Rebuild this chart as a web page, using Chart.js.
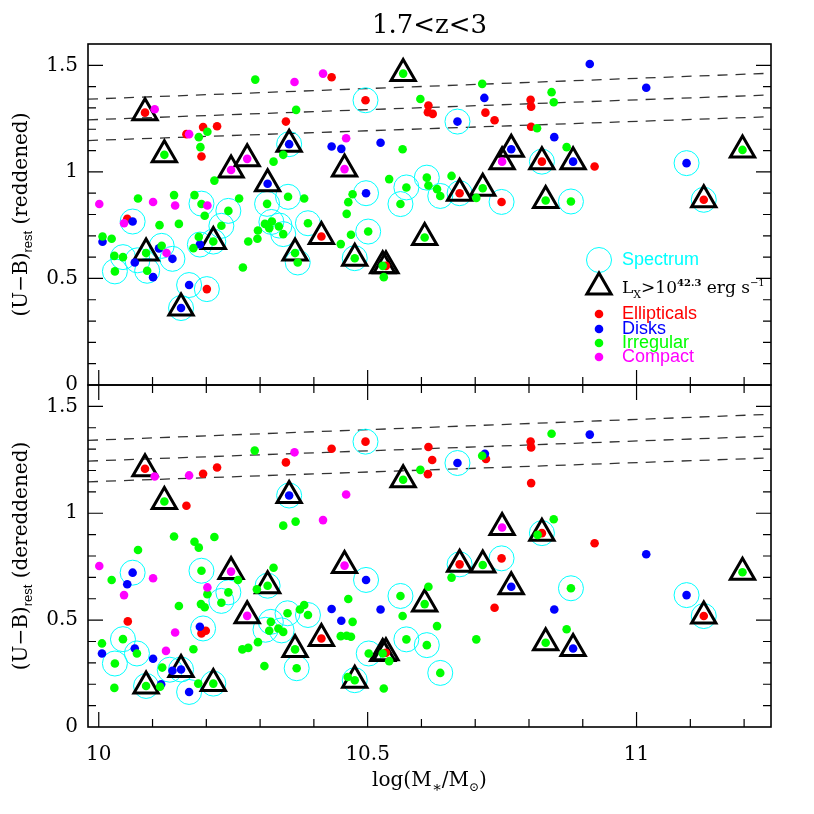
<!DOCTYPE html>
<html>
<head>
<meta charset="utf-8">
<script src="https://cdn.jsdelivr.net/npm/chart.js@4.4.0/dist/chart.umd.min.js"></script>
<style>
  html, body { margin: 0; padding: 0; background: #fff; }
  #wrap { position: relative; width: 814px; height: 814px; }
  #wrap canvas { position: absolute; left: 0; top: 0; }
</style>
</head>
<body>
<div id="wrap">
  <canvas id="top-chart" width="814" height="814"></canvas>
  <canvas id="bottom-chart" width="814" height="814"></canvas>
</div>
<script>
// axis ranges and ticks
const xRange = [9.98, 11.25];
const yRange = [0, 1.6];
const xTickLabels = [10, 10.5, 11];
const xTickMarks = [10.0, 10.1, 10.2, 10.3, 10.4, 10.5, 10.6, 10.7, 10.8, 10.9, 11.0, 11.1, 11.2];
const yTickLabels = [0, 0.5, 1, 1.5];
const yTickMarks = [0.1, 0.2, 0.3, 0.4, 0.5, 0.6, 0.7, 0.8, 0.9, 1.0, 1.1, 1.2, 1.3, 1.4, 1.5];

// dashed colour cuts (same in both panels)
const cutX = [9.98, 11.25];
const cutY = [[1.341, 1.463], [1.244, 1.361], [1.147, 1.259]];

// ---- top panel: reddened (U-B) ----
const topEll = [[10.086,1.278],[10.163,1.177],[10.194,1.210],[10.220,1.214],[10.191,1.072],[10.053,0.780],[10.201,0.450],[10.433,1.444],[10.496,1.336],[10.613,1.311],[10.612,1.280],[10.621,1.272],[10.348,1.236],[10.414,0.697],[10.534,0.559],[10.803,1.338],[10.804,1.306],[10.719,1.278],[10.736,1.242],[10.804,1.212],[10.824,1.048],[10.922,1.025],[10.671,0.900],[10.749,0.859],[11.125,0.869]];
const topDisk = [[10.063,0.767],[10.007,0.672],[10.188,0.659],[10.067,0.575],[10.101,0.506],[10.112,0.641],[10.137,0.592],[10.168,0.469],[10.153,0.361],[10.354,1.130],[10.433,1.119],[10.451,1.108],[10.524,1.137],[10.314,0.944],[10.497,0.900],[10.913,1.506],[10.717,1.347],[10.667,1.236],[10.847,1.163],[10.767,1.106],[10.882,1.048],[11.018,1.395],[11.093,1.041]];
const topIrr = [[10.291,1.433],[10.202,1.188],[10.186,1.163],[10.189,1.116],[10.122,1.080],[10.215,0.959],[10.073,0.875],[10.140,0.891],[10.178,0.891],[10.191,0.849],[10.197,0.794],[10.241,0.817],[10.261,0.875],[10.113,0.750],[10.149,0.756],[10.228,0.747],[10.007,0.697],[10.024,0.686],[10.213,0.673],[10.186,0.695],[10.176,0.642],[10.296,0.725],[10.278,0.673],[10.295,0.686],[10.088,0.619],[10.029,0.606],[10.045,0.600],[10.030,0.533],[10.090,0.536],[10.117,0.653],[10.268,0.551],
  [10.566,1.461],[10.598,1.342],[10.367,1.291],[10.343,1.080],[10.325,1.048],[10.565,1.106],[10.540,0.966],[10.610,0.973],[10.613,0.936],[10.572,0.927],[10.561,0.849],[10.472,0.895],[10.464,0.858],[10.461,0.803],[10.313,0.850],[10.352,0.883],[10.382,0.875],[10.309,0.756],[10.322,0.767],[10.317,0.736],[10.335,0.744],[10.343,0.708],[10.389,0.759],[10.469,0.705],[10.450,0.661],[10.501,0.720],[10.606,0.692],[10.365,0.619],[10.370,0.575],[10.476,0.595],[10.528,0.559],[10.530,0.506],
  [10.713,1.413],[10.842,1.374],[10.846,1.327],[10.815,1.205],[10.870,1.116],[10.656,0.981],[10.629,0.919],[10.635,0.887],[10.702,0.878],[10.714,0.923],[10.831,0.866],[10.878,0.861],[11.197,1.103]];
const topComp = [[10.104,1.294],[10.168,1.177],[10.246,1.009],[10.276,1.061],[10.001,0.849],[10.101,0.859],[10.142,0.842],[10.202,0.842],[10.047,0.759],[10.126,0.619],[10.417,1.461],[10.364,1.422],[10.460,1.158],[10.457,1.013],[10.750,1.048]];
const topSpec = [[10.191,0.851],[10.241,0.817],[10.063,0.767],[10.228,0.747],[10.213,0.673],[10.188,0.659],[10.045,0.600],[10.030,0.533],[10.072,0.585],[10.090,0.536],[10.117,0.653],[10.137,0.592],[10.168,0.469],[10.201,0.450],[10.153,0.361],[10.354,1.130],[10.496,1.336],[10.610,0.973],[10.572,0.927],[10.561,0.849],[10.497,0.900],[10.313,0.850],[10.352,0.883],[10.321,0.765],[10.336,0.748],[10.343,0.708],[10.389,0.759],[10.501,0.720],[10.370,0.575],[10.476,0.595],[10.667,1.236],[10.824,1.048],[10.635,0.887],[10.671,0.900],[10.749,0.859],[10.878,0.861],[11.093,1.041],[11.125,0.869]];
const topXray = [[10.086,1.278],[10.122,1.080],[10.246,1.009],[10.276,1.061],[10.213,0.673],[10.088,0.619],[10.153,0.361],[10.566,1.461],[10.354,1.130],[10.457,1.013],[10.314,0.944],[10.414,0.697],[10.606,0.692],[10.365,0.619],[10.476,0.595],[10.528,0.559],[10.534,0.559],[10.767,1.106],[10.750,1.048],[10.824,1.048],[10.882,1.048],[10.671,0.900],[10.714,0.923],[10.831,0.866],[11.197,1.103],[11.125,0.869]];

// ---- bottom panel: dereddened (U-B) ----
const botEll = [[10.086,1.208],[10.194,1.185],[10.220,1.214],[10.163,1.035],[10.054,0.494],[10.191,0.438],[10.199,0.450],[10.433,1.302],[10.348,1.238],[10.496,1.335],[10.613,1.310],[10.620,1.249],[10.612,1.183],[10.414,0.414],[10.534,0.347],[10.803,1.336],[10.804,1.308],[10.720,1.254],[10.804,1.141],[10.824,0.907],[10.922,0.860],[10.671,0.761],[10.749,0.789],[10.736,0.558],[11.125,0.519]];
const botDisk = [[10.063,0.722],[10.053,0.668],[10.188,0.469],[10.006,0.344],[10.067,0.367],[10.101,0.319],[10.137,0.263],[10.153,0.269],[10.116,0.200],[10.168,0.164],[10.354,1.083],[10.497,0.688],[10.433,0.552],[10.451,0.497],[10.524,0.550],[10.913,1.368],[10.718,1.278],[10.667,1.235],[10.767,0.656],[10.847,0.550],[10.882,0.367],[11.018,0.808],[11.093,0.617]];
const botIrr = [[10.290,1.293],[10.122,1.055],[10.140,0.891],[10.178,0.867],[10.186,0.839],[10.215,0.889],[10.073,0.828],[10.024,0.688],[10.191,0.731],[10.259,0.688],[10.241,0.630],[10.228,0.581],[10.202,0.621],[10.149,0.566],[10.190,0.575],[10.197,0.560],[10.045,0.411],[10.006,0.391],[10.071,0.344],[10.176,0.364],[10.030,0.297],[10.118,0.278],[10.029,0.183],[10.088,0.192],[10.114,0.188],[10.185,0.203],[10.213,0.203],[10.267,0.363],[10.278,0.370],[10.296,0.397],[10.308,0.285],[10.294,0.644],
  [10.598,1.203],[10.566,1.157],[10.343,0.942],[10.366,0.961],[10.325,0.745],[10.314,0.661],[10.464,0.599],[10.561,0.613],[10.606,0.575],[10.613,0.656],[10.565,0.519],[10.472,0.492],[10.450,0.425],[10.461,0.427],[10.469,0.422],[10.351,0.532],[10.382,0.571],[10.374,0.550],[10.389,0.524],[10.320,0.492],[10.317,0.450],[10.334,0.461],[10.343,0.445],[10.365,0.363],[10.368,0.275],[10.502,0.344],[10.528,0.344],[10.540,0.308],[10.572,0.410],[10.610,0.383],[10.476,0.219],[10.463,0.234],[10.530,0.180],
  [10.842,1.372],[10.713,1.269],[10.816,0.899],[10.846,0.972],[10.714,0.758],[10.656,0.699],[10.878,0.649],[10.629,0.472],[10.702,0.410],[10.870,0.457],[10.831,0.394],[10.635,0.253],[11.197,0.724]];
const botComp = [[10.104,1.172],[10.168,1.177],[10.001,0.753],[10.047,0.617],[10.101,0.696],[10.246,0.727],[10.202,0.653],[10.276,0.520],[10.142,0.442],[10.125,0.356],[10.364,1.285],[10.460,1.088],[10.417,0.968],[10.457,0.755],[10.750,0.933]];
const botSpec = [[10.063,0.722],[10.191,0.731],[10.241,0.630],[10.228,0.590],[10.194,0.461],[10.045,0.411],[10.071,0.344],[10.030,0.297],[10.153,0.269],[10.132,0.268],[10.088,0.192],[10.168,0.164],[10.213,0.203],[10.354,1.083],[10.496,1.335],[10.314,0.661],[10.497,0.688],[10.561,0.613],[10.351,0.532],[10.389,0.524],[10.320,0.492],[10.310,0.455],[10.340,0.452],[10.368,0.275],[10.502,0.344],[10.572,0.410],[10.610,0.383],[10.476,0.219],[10.635,0.253],[10.667,1.235],[10.824,0.907],[10.671,0.761],[10.749,0.789],[10.878,0.649],[11.093,0.617],[11.125,0.519]];
const botXray = [[10.086,1.208],[10.122,1.055],[10.246,0.727],[10.276,0.520],[10.153,0.269],[10.088,0.192],[10.213,0.203],[10.354,1.083],[10.566,1.157],[10.457,0.755],[10.314,0.661],[10.606,0.575],[10.414,0.414],[10.365,0.363],[10.528,0.344],[10.534,0.347],[10.476,0.219],[10.750,0.933],[10.824,0.907],[10.671,0.761],[10.714,0.758],[10.767,0.656],[10.831,0.394],[10.882,0.367],[11.197,0.724],[11.125,0.519]];

const SERIF = '"DejaVu Serif", serif';
const SANS = '"Liberation Sans", Arial, sans-serif';
const COL = { ell: '#ff0000', disk: '#0000ff', irr: '#00ff00', comp: '#ff00ff', spec: '#00ffff' };

const pts = arr => arr.map(p => ({ x: p[0], y: p[1] }));
const isMajor = v => Math.abs(v * 2 - Math.round(v * 2)) < 1e-6;

// draw a row of text runs (sub/superscripts) centred on cx, baseline cy
function drawRuns(ctx, runs, cx, cy, align) {
  let w = 0;
  runs.forEach(r => { ctx.font = r.font; r.w = ctx.measureText(r.text).width; w += r.w; });
  let xx = align === 'left' ? cx : cx - w / 2;
  ctx.textAlign = 'left';
  ctx.textBaseline = 'alphabetic';
  runs.forEach(r => {
    ctx.font = r.font;
    ctx.fillStyle = r.color || '#000';
    ctx.fillText(r.text, xx, cy + (r.dy || 0));
    xx += r.w;
  });
}

// frame, inward ticks, titles, legend
const decor = {
  id: 'decor',
  afterDatasetsDraw(chart, args, opts) {
    const { ctx, chartArea: a, scales: { x, y } } = chart;
    ctx.save();
    ctx.strokeStyle = '#000';
    ctx.lineWidth = 1.2;
    ctx.beginPath();
    xTickMarks.forEach(v => {
      const px = x.getPixelForValue(v);
      const len = isMajor(v) ? 15 : 8;
      if (opts.sides.includes('bottom')) { ctx.moveTo(px, a.bottom); ctx.lineTo(px, a.bottom - len); }
      if (opts.sides.includes('top')) { ctx.moveTo(px, a.top); ctx.lineTo(px, a.top + len); }
    });
    yTickMarks.forEach(v => {
      const py = y.getPixelForValue(v);
      const len = isMajor(v) ? 15 : 8;
      ctx.moveTo(a.left, py); ctx.lineTo(a.left + len, py);
      ctx.moveTo(a.right, py); ctx.lineTo(a.right - len, py);
    });
    ctx.stroke();
    ctx.lineWidth = 1.6;
    ctx.strokeRect(a.left, a.top, a.right - a.left, a.bottom - a.top);

    // y axis title
    ctx.translate(20, (a.top + a.bottom) / 2);
    ctx.rotate(-Math.PI / 2);
    drawRuns(ctx, [
      { text: '(U\u2212B)', font: '20px ' + SERIF },
      { text: 'rest', font: '13px ' + SANS, dy: 5 },
      { text: ' (' + opts.ylabel + ')', font: '20px ' + SERIF }
    ], 0, 7);
    ctx.setTransform(1, 0, 0, 1, 0, 0);

    const cx = (a.left + a.right) / 2;
    if (opts.title) {
      drawRuns(ctx, [{ text: opts.title, font: '26px ' + SERIF }], cx, 33);
    }
    if (opts.xlabel) {
      drawRuns(ctx, [
        { text: 'log(M', font: '20px ' + SERIF },
        { text: '\u2217', font: '15px ' + SERIF, dy: 6 },
        { text: '/M', font: '20px ' + SERIF },
        { text: '\u2299', font: '12px ' + SERIF, dy: 5 },
        { text: ')', font: '20px ' + SERIF }
      ], cx, 786);
    }
    if (opts.legend) drawLegend(ctx, a);
    ctx.restore();
  }
};

function drawLegend(ctx, a) {
  const lx = a.left + 511, tx = a.left + 534;
  ctx.lineWidth = 1;
  ctx.strokeStyle = COL.spec;
  ctx.beginPath(); ctx.arc(lx, 260, 12.5, 0, Math.PI * 2); ctx.stroke();
  ctx.font = '18px ' + SANS; ctx.fillStyle = COL.spec; ctx.textBaseline = 'middle'; ctx.textAlign = 'left';
  ctx.fillText('Spectrum', tx, 260);

  const ty = 287, r = 14;
  ctx.lineWidth = 3; ctx.strokeStyle = '#000';
  ctx.beginPath();
  for (let i = 0; i < 3; i++) {
    const ang = i * 2 * Math.PI / 3;
    const px = lx + Math.sin(ang) * r, py = ty - Math.cos(ang) * r;
    i ? ctx.lineTo(px, py) : ctx.moveTo(px, py);
  }
  ctx.closePath(); ctx.stroke();
  drawRuns(ctx, [
    { text: 'L', font: '17px ' + SERIF },
    { text: 'X', font: '11px ' + SERIF, dy: 5 },
    { text: '>10', font: '17px ' + SERIF },
    { text: '42.3', font: 'bold 10px ' + SERIF, dy: -7 },
    { text: ' erg s', font: '17px ' + SERIF },
    { text: '\u22121', font: '10px ' + SERIF, dy: -7 }
  ], tx, ty + 6, 'left');

  const rows = [['Ellipticals', COL.ell, 314], ['Disks', COL.disk, 329], ['Irregular', COL.irr, 343], ['Compact', COL.comp, 357]];
  ctx.textBaseline = 'middle';
  rows.forEach(([label, c, yy]) => {
    ctx.fillStyle = c;
    ctx.beginPath(); ctx.arc(lx, yy, 4.3, 0, Math.PI * 2); ctx.fill();
    ctx.font = '18px ' + SANS;
    ctx.fillText(label, tx, yy);
  });
}

function makeDatasets(p) {
  const dot = (data, color, order) => ({
    data: pts(data), backgroundColor: color, borderWidth: 0, pointRadius: 4.3, order
  });
  const sets = [
    dot(p.comp, COL.comp, 0),
    dot(p.irr, COL.irr, 1),
    dot(p.disk, COL.disk, 2),
    dot(p.ell, COL.ell, 3),
    { data: pts(p.xray), pointStyle: 'triangle', pointRadius: 14, borderWidth: 3,
      borderColor: '#000', backgroundColor: 'rgba(0,0,0,0)', order: 4 },
    { data: pts(p.spec), pointStyle: 'circle', pointRadius: 12.5, borderWidth: 1,
      borderColor: COL.spec, backgroundColor: 'rgba(0,0,0,0)', order: 5 }
  ];
  cutY.forEach(c => sets.push({
    data: [{ x: cutX[0], y: c[0] }, { x: cutX[1], y: c[1] }],
    showLine: true, pointRadius: 0, borderColor: '#333', borderWidth: 1.3,
    borderDash: [10, 8], order: 6
  }));
  return sets;
}

function makeChart(id, p, isTop) {
  const tickFont = { family: SERIF, size: 20 };
  return new Chart(document.getElementById(id), {
    type: 'scatter',
    data: { datasets: makeDatasets(p) },
    plugins: [decor],
    options: {
      responsive: false,
      animation: false,
      events: [],
      layout: { padding: isTop ? { left: 0, right: 43, top: 44, bottom: 429 }
                               : { left: 0, right: 43, top: 385, bottom: 0 } },
      plugins: {
        legend: { display: false },
        tooltip: { enabled: false },
        decor: isTop
          ? { sides: ['bottom'], ylabel: 'reddened', title: '1.7<z<3', legend: true }
          : { sides: ['top', 'bottom'], ylabel: 'dereddened', xlabel: true }
      },
      scales: {
        x: {
          type: 'linear', min: xRange[0], max: xRange[1], display: !isTop,
          grid: { display: false, drawTicks: false }, border: { display: false },
          ticks: { font: tickFont, color: '#000', padding: 16, maxRotation: 0, callback: v => String(v) },
          afterBuildTicks: s => { s.ticks = xTickLabels.map(v => ({ value: v })); },
          afterFit: s => { s.height = isTop ? 0 : 87; }
        },
        y: {
          type: 'linear', min: yRange[0], max: yRange[1],
          grid: { display: false, drawTicks: false }, border: { display: false },
          ticks: { font: tickFont, color: '#000', padding: 10, callback: v => String(v) },
          afterBuildTicks: s => { s.ticks = yTickLabels.map(v => ({ value: v })); },
          afterFit: s => { s.width = 88; }
        }
      }
    }
  });
}

makeChart('top-chart', { ell: topEll, disk: topDisk, irr: topIrr, comp: topComp, spec: topSpec, xray: topXray }, true);
makeChart('bottom-chart', { ell: botEll, disk: botDisk, irr: botIrr, comp: botComp, spec: botSpec, xray: botXray }, false);
</script>
</body>
</html>
